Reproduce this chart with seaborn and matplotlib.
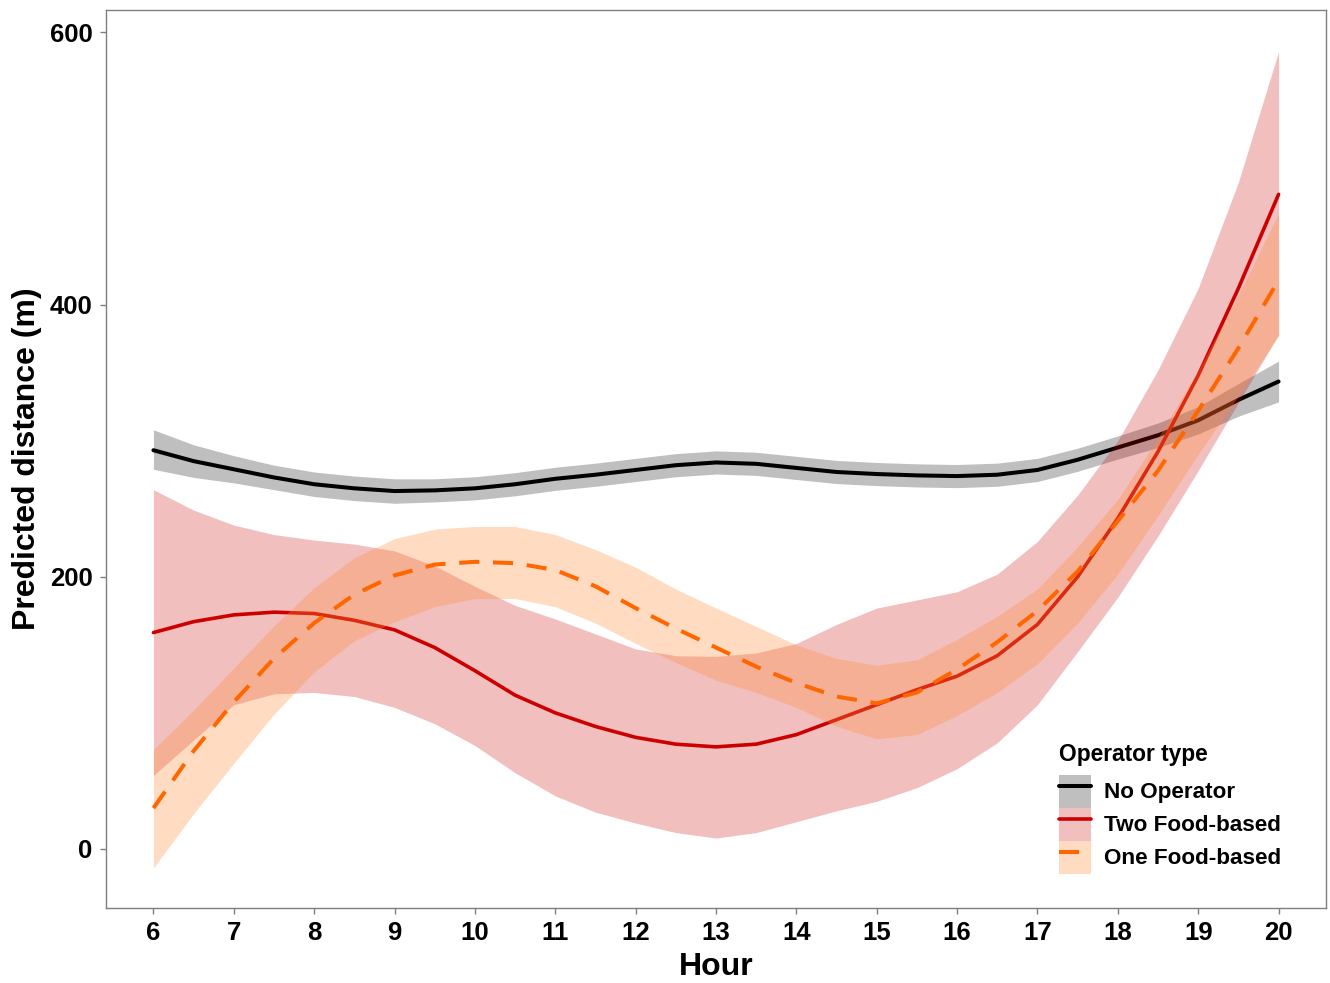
import numpy as np
import pandas as pd
import matplotlib
matplotlib.use("Agg")
import matplotlib.pyplot as plt
import seaborn as sns
from matplotlib.patches import Patch
from matplotlib.lines import Line2D

# ---------------- data ----------------
hours = [6, 6.5, 7, 7.5, 8, 8.5, 9, 9.5, 10, 10.5, 11, 11.5, 12, 12.5, 13,
         13.5, 14, 14.5, 15, 15.5, 16, 16.5, 17, 17.5, 18, 18.5, 19, 19.5, 20]

groups = ["No Operator", "Two Food-based", "One Food-based"]

no_op_fit = [293, 285, 279, 273, 268, 265, 263, 263.5, 265, 268, 272, 275, 278.5, 282, 284,
             283, 280, 277, 275.5, 274.5, 274, 275, 278.5, 286, 295, 304, 315, 330, 343.5]
no_op_upr = [308, 297, 289, 282, 277, 274, 272, 272, 273.5, 276.5, 280.5, 283.5, 287, 290.5, 292.5,
             291.5, 288.5, 285.5, 284, 283, 282.5, 283.5, 287, 294.5, 303.5, 313, 325, 342, 358.5]
no_op_lwr = [279, 273, 269, 264, 259, 256, 254, 255, 256.5, 259.5, 263.5, 266.5, 270, 273.5, 275.5,
             274.5, 271.5, 268.5, 267, 266, 265.5, 266.5, 270, 277.5, 286.5, 295, 305, 318, 328.5]

two_fit = [159, 167, 172, 174, 173, 168, 161, 148, 131, 113, 100, 90, 82, 77, 75,
           77, 84, 95, 106, 117, 127, 142, 165, 200, 243, 292, 348, 412, 481]
two_upr = [264, 249, 238, 231, 227, 224, 219, 208, 193, 179, 169, 158, 147, 142, 141.5,
           144, 151, 165, 177, 183, 189, 202, 226, 260, 300, 352, 412, 490, 586]
two_lwr = [54, 80, 106, 114, 115, 112, 104, 92, 76, 56, 39, 27, 19, 12, 8,
           12, 20, 28, 35, 45, 59, 78, 106, 145, 185, 230, 278, 328, 378]

one_fit = [30, 72, 108, 140, 166, 187, 201, 209, 211, 210, 205, 193, 177, 162, 148,
           134, 122, 112, 107, 115, 132, 152, 175, 204, 241, 278, 322, 368, 418]
one_upr = [73, 102, 133, 164, 192, 214, 228, 235, 237, 237, 231, 220, 207, 191, 177,
           163.5, 150, 140, 135, 139, 154, 171, 191, 222, 257, 302, 352, 407, 467]
one_lwr = [-14, 26, 63, 99, 130, 153, 167, 178, 184, 184, 178, 166, 151, 137, 124,
           115, 104, 90, 81, 84, 98, 115, 136, 166, 202, 245, 290, 333, 377]

x_ticks = [6, 7, 8, 9, 10, 11, 12, 13, 14, 15, 16, 17, 18, 19, 20]
y_ticks = [0, 200, 400, 600]

# ---------------- styling ----------------
sns.set_style("white")
plt.rcParams["font.family"] = ["Liberation Sans", "DejaVu Sans"]
plt.rcParams["font.weight"] = "bold"
plt.rcParams["text.color"] = "black"
plt.rcParams["axes.labelcolor"] = "black"
plt.rcParams["xtick.color"] = "black"
plt.rcParams["ytick.color"] = "black"

line_colors = {"No Operator": "#000000", "Two Food-based": "#CC0000", "One Food-based": "#FF6600"}
band_colors = {"No Operator": ("#000000", 0.25), "Two Food-based": ("#CC0000", 0.25),
               "One Food-based": ("#FF8C33", 0.30)}
line_styles = {"No Operator": "-", "Two Food-based": "-", "One Food-based": (0, (5, 3.4))}
line_widths = {"No Operator": 2.9, "Two Food-based": 2.6, "One Food-based": 2.9}

series = {
    "No Operator": (no_op_fit, no_op_lwr, no_op_upr),
    "Two Food-based": (two_fit, two_lwr, two_upr),
    "One Food-based": (one_fit, one_lwr, one_upr),
}

frames = []
for g in groups:
    fit, lwr, upr = series[g]
    frames.append(pd.DataFrame({"Hour": hours, "fit": fit, "lwr": lwr, "upr": upr,
                                "Operator type": g}))
df = pd.concat(frames, ignore_index=True)

fig = plt.figure(figsize=(13.3, 9.83), dpi=100)
ax = fig.add_axes([106 / 1330, 1 - 908 / 983, (1326 - 106) / 1330, (908 - 10) / 983])

for i, g in enumerate(groups):
    sub = df[df["Operator type"] == g]
    col, alp = band_colors[g]
    ax.fill_between(sub["Hour"], sub["lwr"], sub["upr"], color=col, alpha=alp,
                    linewidth=0, zorder=1 + 2 * i)
    sns.lineplot(data=sub, x="Hour", y="fit", ax=ax, color=line_colors[g],
                 linewidth=line_widths[g], linestyle=line_styles[g],
                 zorder=2 + 2 * i, legend=False, errorbar=None)

ax.set_xlim(5.41, 20.59)
ax.set_ylim(-43.4, 616.5)
ax.set_xticks(x_ticks)
ax.set_yticks(y_ticks)
ax.set_xticklabels([str(v) for v in x_ticks], fontsize=18.5, fontweight="bold", color="black")
ax.set_yticklabels([str(v) for v in y_ticks], fontsize=18.5, fontweight="bold", color="black")
ax.tick_params(axis="both", which="major", direction="out", length=4.3, width=1,
               color="#7F7F7F", labelcolor="black", bottom=True, left=True)
ax.tick_params(axis="x", pad=5.0)
ax.tick_params(axis="y", pad=5.3)

for s in ax.spines.values():
    s.set_color("#7F7F7F")
    s.set_linewidth(1.0)

ax.set_xlabel("Hour", fontsize=23, fontweight="bold", labelpad=5, color="black")
ax.set_ylabel("Predicted distance (m)", fontsize=23, fontweight="bold", labelpad=5.5,
              color="black")

# legend: ribbon-colour square with line on top
handles = []
for g in groups:
    col, alp = band_colors[g]
    p = Patch(facecolor=col, alpha=alp, edgecolor="none")
    ln = Line2D([], [], color=line_colors[g], linewidth=line_widths[g],
                linestyle=line_styles[g])
    handles.append((p, ln))

leg = ax.legend(handles, groups, title="Operator type", loc="upper left",
                bbox_to_anchor=(1059 / 1330, 1 - 743 / 983), bbox_transform=fig.transFigure,
                frameon=False, fontsize=16.2, title_fontsize=16.4,
                handlelength=1.42, handleheight=1.88, labelspacing=0.0,
                handletextpad=0.58, borderpad=0.0, borderaxespad=0.0,
                alignment="left")
leg.get_title().set_fontweight("bold")
leg.get_title().set_color("black")
for t in leg.get_texts():
    t.set_fontweight("bold")
    t.set_color("black")
leg._legend_box.sep = 6.2

fig.savefig("out.png", dpi=100)
